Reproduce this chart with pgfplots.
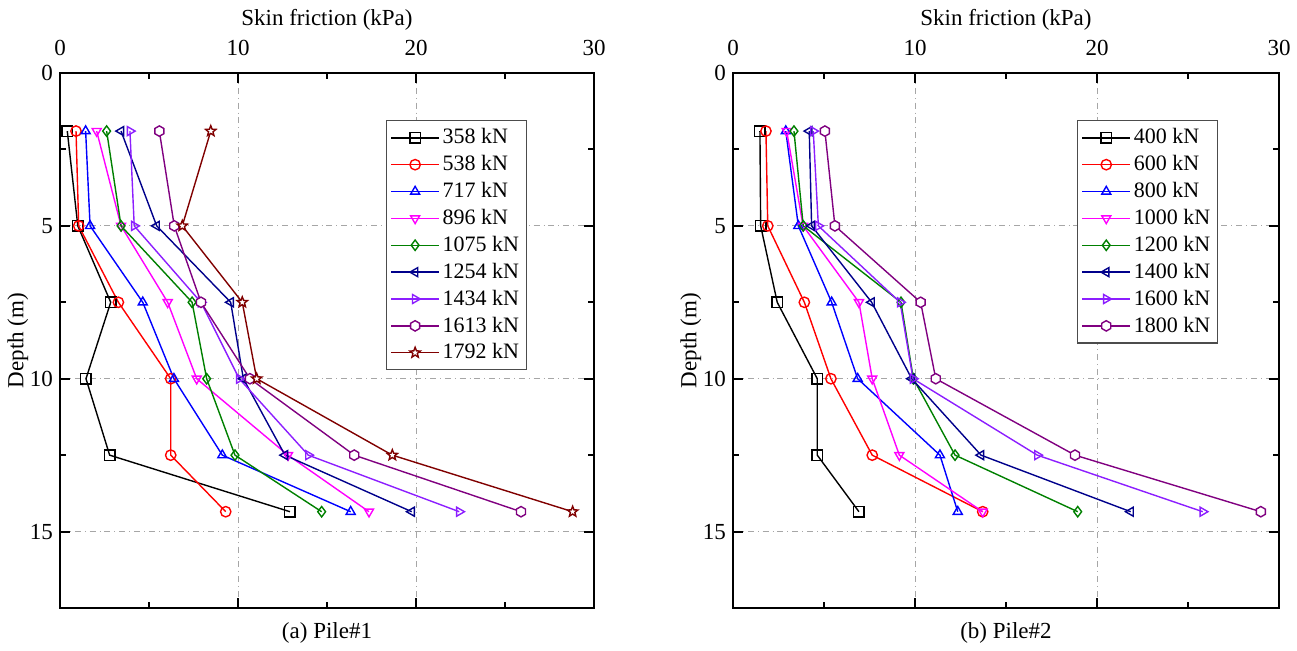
\documentclass[border=0pt]{standalone}
\usepackage{fontspec}
\setmainfont{Liberation Serif}
\usepackage{pgfplots}
\pgfplotsset{compat=1.18}
\usetikzlibrary{plotmarks}
\definecolor{cgreen}{RGB}{0,128,0}
\definecolor{cnavy}{RGB}{0,0,139}
\definecolor{cviolet}{RGB}{140,30,255}
\definecolor{cpurple}{RGB}{128,0,128}
\definecolor{cdred}{RGB}{128,0,0}
\definecolor{cmag}{RGB}{255,0,255}
\pgfdeclareplotmark{hexagon}{%
  \pgfpathmoveto{\pgfpointpolar{30}{\pgfplotmarksize}}%
  \pgfpathlineto{\pgfpointpolar{90}{\pgfplotmarksize}}%
  \pgfpathlineto{\pgfpointpolar{150}{\pgfplotmarksize}}%
  \pgfpathlineto{\pgfpointpolar{210}{\pgfplotmarksize}}%
  \pgfpathlineto{\pgfpointpolar{270}{\pgfplotmarksize}}%
  \pgfpathlineto{\pgfpointpolar{330}{\pgfplotmarksize}}%
  \pgfpathclose\pgfusepathqfillstroke}
\pgfdeclareplotmark{ostar}{%
  \pgfpathmoveto{\pgfpointpolar{90}{1.05\pgfplotmarksize}}%
  \pgfpathlineto{\pgfpointpolar{126}{0.45\pgfplotmarksize}}%
  \pgfpathlineto{\pgfpointpolar{162}{1.05\pgfplotmarksize}}%
  \pgfpathlineto{\pgfpointpolar{198}{0.45\pgfplotmarksize}}%
  \pgfpathlineto{\pgfpointpolar{234}{1.05\pgfplotmarksize}}%
  \pgfpathlineto{\pgfpointpolar{270}{0.45\pgfplotmarksize}}%
  \pgfpathlineto{\pgfpointpolar{306}{1.05\pgfplotmarksize}}%
  \pgfpathlineto{\pgfpointpolar{342}{0.45\pgfplotmarksize}}%
  \pgfpathlineto{\pgfpointpolar{18}{1.05\pgfplotmarksize}}%
  \pgfpathlineto{\pgfpointpolar{54}{0.45\pgfplotmarksize}}%
  \pgfpathclose\pgfusepathqfillstroke}
\pgfplotsset{
  pilestyle/.style={
    scale only axis, height=267.5pt,
    xmin=0, xmax=30, ymin=0, ymax=17.5, y dir=reverse,
    xtick={0,10,20,30}, ytick={0,5,10,15},
    minor xtick={5,15,25}, minor ytick={2.5,7.5,12.5},
    xticklabel pos=top,
    tick align=inside,
    grid=major,
    major grid style={gray!70, dash dot, line width=0.4pt},
    axis line style={line width=1pt},
    major tick length=5pt, minor tick length=3pt,
    every tick/.style={line width=1pt, black},
    xlabel={Skin friction (kPa)}, ylabel={Depth (m)},
    font=\fontsize{11.5}{13}\selectfont,
    xticklabel style={yshift=5pt},
    xlabel style={yshift=-2pt},
    ylabel style={yshift=-6pt},
    /pgf/number format/assume math mode=true,
    every axis plot/.append style={line width=0.7pt, mark size=2.6pt},
    legend cell align=left,
    legend style={draw=black!70, line width=0.6pt, font=\fontsize{11}{13}\selectfont, row sep=0.3pt, inner sep=2pt,
      nodes={inner xsep=1.5pt}},
    legend image code/.code={\draw[mark repeat=2,mark phase=2] plot coordinates {(0cm,0cm) (0.42cm,0cm) (0.84cm,0cm)};},
  },
  s1/.style={black, mark=square, mark options={fill=white, solid}},
  s2/.style={red, mark=o, mark options={fill=white, solid}},
  s3/.style={blue, mark=triangle, mark options={fill=white, solid}},
  s4/.style={cmag, mark=triangle, mark options={fill=white, solid, rotate=180}},
  s5/.style={cgreen, mark=diamond, mark options={fill=white, solid}},
  s6/.style={cnavy, mark=triangle, mark options={fill=white, solid, rotate=90}},
  s7/.style={cviolet, mark=triangle, mark options={fill=white, solid, rotate=-90}},
  s8/.style={cpurple, mark=hexagon, mark options={fill=white, solid}},
  s9/.style={cdred, mark=ostar, mark options={fill=white, solid}},
}
\begin{document}
\begin{tikzpicture}
\path[use as bounding box] (0,0) rectangle (648.5pt,325pt);
\begin{axis}[pilestyle, name=ax1, width=267pt, at={(30pt,21pt)}, anchor=south west,
  legend style={at={(0.874,0.912)}, anchor=north east}]
\addplot[s1] coordinates {(0.41,1.9) (1.0,5) (2.85,7.5) (1.46,10) (2.79,12.5) (12.92,14.35)};
\addplot[s2] coordinates {(0.9,1.9) (1.05,5) (3.28,7.5) (6.22,10) (6.22,12.5) (9.31,14.35)};
\addplot[s3] coordinates {(1.44,1.9) (1.69,5) (4.65,7.5) (6.4,10) (9.12,12.5) (16.33,14.35)};
\addplot[s4] coordinates {(2.06,1.9) (3.43,5) (6.05,7.5) (7.68,10) (12.81,12.5) (17.36,14.35)};
\addplot[s5] coordinates {(2.62,1.9) (3.43,5) (7.42,7.5) (8.24,10) (9.83,12.5) (14.7,14.35)};
\addplot[s6] coordinates {(3.43,1.9) (5.43,5) (9.59,7.5) (10.3,10) (12.64,12.5) (19.76,14.35)};
\addplot[s7] coordinates {(3.93,1.9) (4.17,5) (7.92,7.5) (10.07,10) (13.95,12.5) (22.43,14.35)};
\addplot[s8] coordinates {(5.58,1.9) (6.42,5) (7.92,7.5) (10.67,10) (16.53,12.5) (25.9,14.35)};
\addplot[s9] coordinates {(8.47,1.9) (6.87,5) (10.24,7.5) (11.05,10) (18.67,12.5) (28.8,14.35)};
\legend{358 kN, 538 kN, 717 kN, 896 kN, 1075 kN, 1254 kN, 1434 kN, 1613 kN, 1792 kN}
\end{axis}
\begin{axis}[pilestyle, name=ax2, width=273pt, at={(366.5pt,21pt)}, anchor=south west,
  legend style={at={(0.888,0.912)}, anchor=north east}]
\addplot[s1] coordinates {(1.48,1.9) (1.52,5) (2.43,7.5) (4.63,10) (4.63,12.5) (6.92,14.35)};
\addplot[s2] coordinates {(1.81,1.9) (1.91,5) (3.92,7.5) (5.38,10) (7.65,12.5) (13.72,14.35)};
\addplot[s3] coordinates {(2.9,1.9) (3.59,5) (5.42,7.5) (6.85,10) (11.37,12.5) (12.35,14.35)};
\addplot[s4] coordinates {(2.95,1.9) (3.85,5) (6.92,7.5) (7.65,10) (9.14,12.5) (13.72,14.35)};
\addplot[s5] coordinates {(3.35,1.9) (3.86,5) (9.23,7.5) (9.91,10) (12.2,12.5) (18.94,14.35)};
\addplot[s6] coordinates {(4.19,1.9) (4.32,5) (7.62,7.5) (9.82,10) (13.63,12.5) (21.85,14.35)};
\addplot[s7] coordinates {(4.41,1.9) (4.69,5) (9.18,7.5) (9.89,10) (16.72,12.5) (25.81,14.35)};
\addplot[s8] coordinates {(5.05,1.9) (5.6,5) (10.31,7.5) (11.14,10) (18.79,12.5) (29.0,14.35)};
\legend{400 kN, 600 kN, 800 kN, 1000 kN, 1200 kN, 1400 kN, 1600 kN, 1800 kN}
\end{axis}
\node[font=\fontsize{11.5}{13}\selectfont] at ([yshift=-12.5pt]ax1.south) {(a) Pile\#1};
\node[font=\fontsize{11.5}{13}\selectfont] at ([yshift=-12.5pt]ax2.south) {(b) Pile\#2};
\end{tikzpicture}
\end{document}
